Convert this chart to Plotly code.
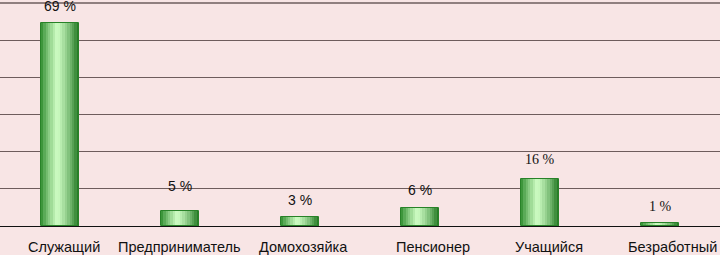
import plotly.graph_objects as go

categories = ["Служащий", "Предприниматель", "Домохозяйка", "Пенсионер", "Учащийся", "Безработный"]
values = [69, 5, 3, 6, 16, 1]
label_fonts = ["Liberation Sans", "Liberation Sans", "Liberation Sans", "Liberation Sans", "Liberation Serif", "Liberation Serif"]
label_shift = [17, 25, 17, 18, 19, 17]
cat_xshift = [4, -1, 3, 13, 9, 12]

BAR_W = 0.317
N = 16

def lerp(a, b, t):
    return tuple(int(round(a[i] + (b[i] - a[i]) * t)) for i in range(3))

left_c = (40, 135, 40)
mid_c = (205, 252, 195)
right_c = (28, 115, 28)

def grad(t):
    if t < 0.42:
        return lerp(left_c, mid_c, (t / 0.42) ** 0.8)
    return lerp(mid_c, right_c, ((t - 0.42) / 0.58) ** 1.3)

fig = go.Figure()
sw = BAR_W / N
for k in range(N):
    t = (k + 0.5) / N
    c = grad(t)
    fig.add_trace(go.Bar(
        x=categories, y=values,
        width=sw * 1.05, offset=-BAR_W / 2 + k * sw,
        marker=dict(color=f"rgb{c}", line=dict(width=0)),
        hoverinfo="skip", showlegend=False,
    ))
# top rim
fig.add_trace(go.Bar(
    x=categories, y=values, width=BAR_W,
    marker=dict(color="rgba(0,0,0,0)", line=dict(color="rgb(40,130,40)", width=1)),
    hoverinfo="skip", showlegend=False,
))

for c, v, f, s in zip(categories, values, label_fonts, label_shift):
    fig.add_annotation(x=c, y=v, text=f"{v} %", showarrow=False, yshift=s,
                       font=dict(family=f, size=14, color="#111"))

for c, xs in zip(categories, cat_xshift):
    fig.add_annotation(x=c, y=0, yref="y", text=c, showarrow=False, xshift=xs, yshift=-21,
                       font=dict(family="Liberation Sans", size=14.5, color="#111"))

dtick = 12.63
GRID = "#6e5c5c"
# top gridline at the upper edge of the plot area
fig.add_shape(type="line", xref="paper", x0=0, x1=1, yref="paper", y0=1, y1=1,
              line=dict(color=GRID, width=1.6), layer="above")

fig.update_layout(
    width=720, height=255,
    margin=dict(l=0, r=0, t=3, b=29),
    paper_bgcolor="#f8e5e5", plot_bgcolor="rgba(0,0,0,0)",
    barmode="overlay", bargap=0,
    xaxis=dict(range=[-0.5, 5.5], showgrid=False, showline=True, linecolor="#111", linewidth=1,
               showticklabels=False, ticks=""),
    yaxis=dict(range=[0, 6 * dtick], dtick=dtick, showgrid=True, gridcolor=GRID, gridwidth=1.4,
               showticklabels=False, zeroline=False, fixedrange=True),
)
fig.write_html("out.html", config={"displayModeBar": False},
               post_script="document.body.style.margin='0';document.body.style.overflow='hidden';")
